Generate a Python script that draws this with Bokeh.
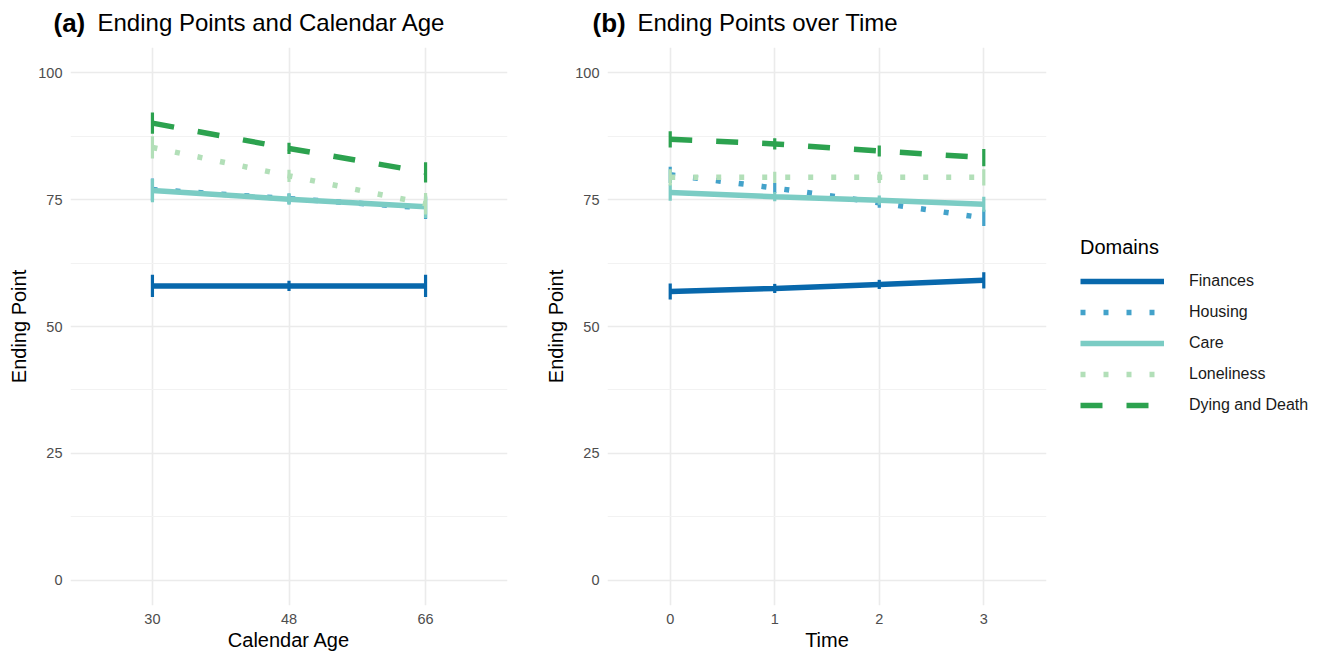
from bokeh.plotting import figure
from bokeh.layouts import row, column
from bokeh.models import FixedTicker, Range1d, Legend, LegendItem
from bokeh.core.properties import value
from bokeh.embed import file_html
from bokeh.resources import INLINE

# ---------------- data ----------------
domains = ["Finances", "Housing", "Care", "Loneliness", "Dying and Death"]
colors = ["#0868AC", "#43A2CA", "#7BCCC4", "#B2DFB8", "#2CA24F"]
dashes = ["solid", "5 18", "solid", "5 18", "22 24"]

# Panel (a): calendar age
age_labels = ["30", "48", "66"]
a_finances = [58.0, 58.0, 58.0]
a_housing = [77.0, 75.2, 73.4]
a_care = [76.8, 75.1, 73.6]
a_loneliness = [85.3, 79.7, 74.2]
a_dying = [90.1, 85.1, 80.4]
a_finances_err = [2.2, 1.0, 2.2]
a_housing_err = [2.2, 1.0, 2.2]
a_care_err = [2.3, 1.1, 2.2]
a_loneliness_err = [2.2, 1.2, 2.1]
a_dying_err = [2.1, 1.1, 2.0]

# Panel (b): time
time_labels = ["0", "1", "2", "3"]
b_finances = [56.9, 57.5, 58.3, 59.1]
b_housing = [79.9, 77.3, 74.4, 71.4]
b_care = [76.4, 75.6, 74.9, 74.1]
b_loneliness = [79.4, 79.4, 79.4, 79.4]
b_dying = [86.9, 86.0, 84.6, 83.3]
b_finances_err = [1.6, 0.9, 0.9, 1.6]
b_housing_err = [1.6, 1.0, 1.0, 1.6]
b_care_err = [1.6, 0.9, 0.9, 1.5]
b_loneliness_err = [1.6, 1.1, 1.1, 1.6]
b_dying_err = [1.6, 1.1, 1.1, 1.7]

y_ticks = [0, 25, 50, 75, 100]
y_minor = [12.5, 37.5, 62.5, 87.5]

panel_tags = ["(a)", "(b)"]
panel_titles = ["Ending Points and Calendar Age", "Ending Points over Time"]

FONT = "Liberation Sans"
H = 655
TITLE_H = 40
TOP = 7
BOTTOM = 50
WA, WB = 537, 523


def blank_figure(width, height, xr, yr):
    f = figure(width=width, height=height, output_backend="svg", toolbar_location=None,
               x_range=Range1d(*xr), y_range=Range1d(*yr),
               x_axis_location=None, y_axis_location=None,
               min_border=0, min_border_left=0, min_border_right=0,
               min_border_top=0, min_border_bottom=0)
    f.grid.visible = False
    f.outline_line_color = None
    return f


def make_panel(width, border_left, border_right, xlabels, series, errs, xlabel):
    n = len(xlabels)
    p = figure(width=width, height=H - TITLE_H, output_backend="svg", toolbar_location=None,
               x_range=Range1d(-0.6, n - 1 + 0.6), y_range=Range1d(-5, 105),
               min_border_left=border_left, min_border_right=border_right,
               min_border_top=TOP, min_border_bottom=BOTTOM)
    p.outline_line_color = None
    p.background_fill_color = "white"
    p.border_fill_color = "white"

    xs = list(range(n))
    p.xaxis.ticker = FixedTicker(ticks=xs)
    p.xaxis.major_label_overrides = {i: lab for i, lab in enumerate(xlabels)}
    p.yaxis.ticker = FixedTicker(ticks=y_ticks, minor_ticks=y_minor)
    for ax in (p.xaxis[0], p.yaxis[0]):
        ax.axis_line_color = None
        ax.major_tick_line_color = None
        ax.minor_tick_line_color = None
        ax.major_tick_out = 0
        ax.major_tick_in = 0
        ax.minor_tick_out = 0
        ax.major_label_text_font = FONT
        ax.major_label_text_font_size = "14.5px"
        ax.major_label_text_color = "#4D4D4D"
        ax.axis_label_text_font = FONT
        ax.axis_label_text_font_size = "20px"
        ax.axis_label_text_font_style = "normal"
        ax.axis_label_text_color = "black"
    p.xaxis.axis_label = xlabel
    p.yaxis.axis_label = "Ending Point"
    p.xaxis.major_label_standoff = 8
    p.xaxis.axis_label_standoff = 2
    p.yaxis.major_label_standoff = 8
    p.yaxis.axis_label_standoff = 5

    p.xgrid.grid_line_color = "#EBEBEB"
    p.xgrid.grid_line_width = 1.6
    p.ygrid.grid_line_color = "#EBEBEB"
    p.ygrid.grid_line_width = 1.6
    p.ygrid.minor_grid_line_color = "#F2F2F2"
    p.ygrid.minor_grid_line_width = 1.2

    for vals, err, c, d in zip(series, errs, colors, dashes):
        p.line(xs, vals, line_color=c, line_width=5.5, line_dash=d)
        lo = [v - e for v, e in zip(vals, err)]
        hi = [v + e for v, e in zip(vals, err)]
        p.segment(x0=xs, y0=lo, x1=xs, y1=hi, line_color=c, line_width=3.2)
    return p


# title strip spanning both panels (pixel coordinates)
tt = blank_figure(WA + WB, TITLE_H, (0, WA + WB), (0, TITLE_H))
tt.text(x=[53, WA + 55], y=[TITLE_H - 22] * 2, text=panel_tags, text_font=value(FONT),
        text_font_size="26px", text_font_style="bold", text_color="black",
        text_baseline="middle", text_align="left")
tt.text(x=[97, WA + 100], y=[TITLE_H - 22] * 2, text=panel_titles, text_font=value(FONT),
        text_font_size="24px", text_font_style="normal", text_color="black",
        text_baseline="middle", text_align="left")

pa = make_panel(WA, 70, 30, age_labels,
                [a_finances, a_housing, a_care, a_loneliness, a_dying],
                [a_finances_err, a_housing_err, a_care_err, a_loneliness_err, a_dying_err],
                "Calendar Age")
pb = make_panel(WB, 70, 14, time_labels,
                [b_finances, b_housing, b_care, b_loneliness, b_dying],
                [b_finances_err, b_housing_err, b_care_err, b_loneliness_err, b_dying_err],
                "Time")

# legend panel
pl = blank_figure(263, H, (0, 1), (0, 1))
# legend-only renderers: their data lie outside the visible range of this panel
leg_renderers = [pl.line(x=[5, 6], y=[5, 6], line_color=c, line_width=5.5, line_dash=d)
                 for c, d in zip(colors, dashes)]
legend = Legend(items=[LegendItem(label=d, renderers=[r]) for d, r in zip(domains, leg_renderers)],
                title="Domains", title_text_font=FONT, title_text_font_size="20px",
                title_text_font_style="normal", title_text_color="black", title_standoff=7,
                label_text_font=FONT, label_text_font_size="16px", label_text_color="#1A1A1A",
                glyph_width=84, glyph_height=31, label_standoff=25, spacing=0,
                label_height=31, padding=5, margin=20, border_line_color=None,
                background_fill_alpha=0, location="center_left")
pl.add_layout(legend)

layout = row(column(tt, row(pa, pb)), pl)
open("out.html", "w").write(file_html(layout, INLINE))
